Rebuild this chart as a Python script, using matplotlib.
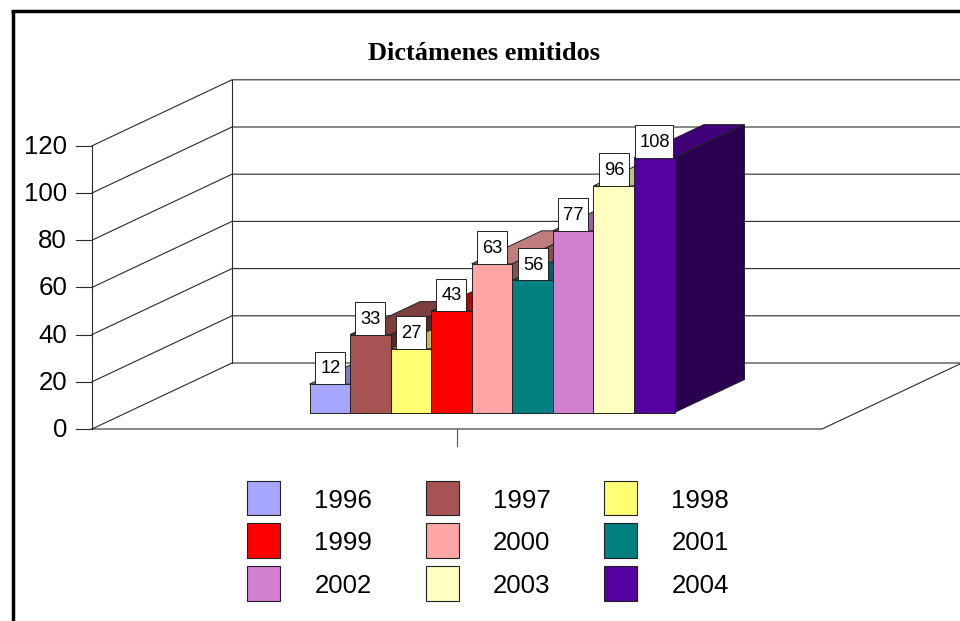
import matplotlib
matplotlib.use("Agg")
import matplotlib.pyplot as plt
from matplotlib.patches import Polygon, Rectangle

plt.rcParams['font.family'] = ['Liberation Sans', 'DejaVu Sans']

title = "Dictámenes emitidos"
years = ["1996", "1997", "1998", "1999", "2000", "2001", "2002", "2003", "2004"]
values = [12, 33, 27, 43, 63, 56, 77, 96, 108]
colors = ["#A6A6FF", "#A65353", "#FFFF73", "#FF0000", "#FFA6A6",
          "#008080", "#D27FD2", "#FFFFBF", "#5500A0"]
y_ticks = [0, 20, 40, 60, 80, 100, 120]

# layout in pixels of the oblique projection
x0, y0 = 92, 429        # front left corner of the floor
floor_w = 730
dx, dy = 140, -66       # offset front -> back of the box
scale = 2.36            # px per unit


def px(xfrac, val, depth=0.0):
    return (x0 + xfrac * floor_w + depth * dx, y0 - val * scale + depth * dy)


def shade(c, f):
    rgb = matplotlib.colors.to_rgb(c)
    return tuple(v * f for v in rgb)


fig = plt.figure(figsize=(9.6, 6.21), dpi=100)
ax = fig.add_axes([0, 0, 1, 1])
ax.set_xlim(0, 960)
ax.set_ylim(621, 0)
ax.axis("off")

# outer frame
ax.plot([12.5, 12.5], [621, 10.5], color="black", lw=2.5, solid_capstyle="butt")
ax.plot([11.3, 960], [10.5, 10.5], color="black", lw=2.5, solid_capstyle="butt")

ax.text(484.5, 53, title, family="Liberation Serif", fontweight="bold",
        fontsize=19, ha="center", va="center", color="black")

# walls and grid
grid = "#2a2a2a"
for t in y_ticks:
    a = px(0, t)
    b = px(0, t, 1)
    c = px(1, t, 1)
    ax.plot([a[0], b[0], c[0]], [a[1], b[1], c[1]], color=grid, lw=0.8, zorder=1)
    ax.plot([a[0] - 16, a[0]], [a[1], a[1]], color=grid, lw=0.8, zorder=1)
    ax.text(67, a[1] + 1, str(t), fontsize=18.6, ha="right", va="center")
top = y_ticks[-1]
ax.plot([px(0, 0)[0], px(0, top)[0]], [px(0, 0)[1], px(0, top)[1]], color=grid, lw=0.8, zorder=1)
ax.plot([px(0, 0, 1)[0], px(0, top, 1)[0]], [px(0, 0, 1)[1], px(0, top, 1)[1]], color=grid, lw=0.8, zorder=1)
f1, f2 = px(1, 0), px(1, 0, 1)
ax.plot([px(0, 0)[0], f1[0], f2[0]], [y0, f1[1], f2[1]], color=grid, lw=0.8, zorder=1)
ax.plot([px(0.5, 0)[0]] * 2, [y0, y0 + 17], color="#555555", lw=0.8, zorder=1)

# bars, painted left to right so later fronts cover earlier sides
n = len(values)
bar_w = 0.5 / n
d1, d2 = 0.25, 0.75
edge = "#222222"
for i, (v, col) in enumerate(zip(values, colors)):
    l = 0.25 + i * bar_w
    r = l + bar_w
    top_face = [px(l, v, d1), px(r, v, d1), px(r, v, d2), px(l, v, d2)]
    side_face = [px(r, 0, d1), px(r, v, d1), px(r, v, d2), px(r, 0, d2)]
    front_face = [px(l, 0, d1), px(r, 0, d1), px(r, v, d1), px(l, v, d1)]
    z = 3 + i
    ax.add_patch(Polygon(top_face, fc=shade(col, 0.75), ec=edge, lw=0.7, zorder=z))
    ax.add_patch(Polygon(side_face, fc=shade(col, 0.5), ec=edge, lw=0.7, zorder=z))
    ax.add_patch(Polygon(front_face, fc=col, ec=edge, lw=0.7, zorder=z))

# value labels
for i, v in enumerate(values):
    l = 0.25 + i * bar_w
    cx, by = px(l + bar_w / 2, v, d1)
    w = 38.5 if v >= 100 else 30
    h = 32.5
    ax.add_patch(Rectangle((cx - w / 2, by - h), w, h, fc="white", ec="#222222",
                           lw=0.7, zorder=20))
    ax.text(cx + 0.5, by - h / 2 + 1, str(v), fontsize=13.2, ha="center", va="center", zorder=21)

# legend
leg_x = [247, 425.7, 604.3]
leg_y = [480.5, 523, 566]
text_x = [371.5, 550.5, 729]
for i, (yr, col) in enumerate(zip(years, colors)):
    row, column = i // 3, i % 3
    ax.add_patch(Rectangle((leg_x[column], leg_y[row]), 33, 34.5, fc=col, ec=edge, lw=0.8, zorder=5))
    ax.text(text_x[column], leg_y[row] + 20, yr, fontsize=18.6, ha="right", va="center")

fig.savefig("out.png", dpi=100, facecolor="white")
